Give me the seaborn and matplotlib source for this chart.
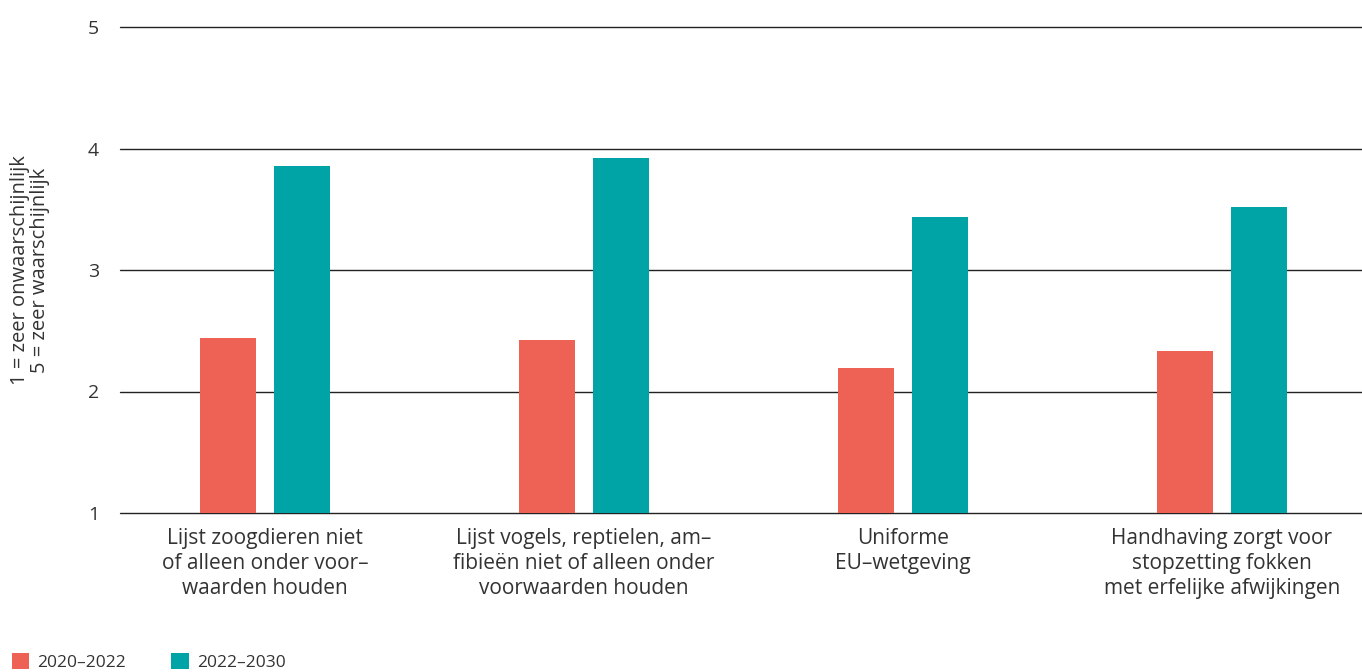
import pandas as pd
import matplotlib
matplotlib.use("Agg")
import matplotlib.pyplot as plt
import seaborn as sns

# data
categories = [
    "Lijst zoogdieren niet\nof alleen onder voor–\nwaarden houden",
    "Lijst vogels, reptielen, am–\nfibieën niet of alleen onder\nvoorwaarden houden",
    "Uniforme\nEU–wetgeving",
    "Handhaving zorgt voor\nstopzetting fokken\nmet erfelijke afwijkingen",
]
periods = ["2020–2022", "2022–2030"]
values_2020_2022 = [2.44, 2.42, 2.19, 2.33]
values_2022_2030 = [3.86, 3.92, 3.44, 3.52]
palette = {"2020–2022": "#ED6254", "2022–2030": "#00A3A6"}

sns.set_theme(style="white")
plt.rcParams["font.family"] = ["Open Sans", "DejaVu Sans"]
text_color = "#333333"

df = pd.DataFrame({
    "category": categories * 2,
    "period": [periods[0]] * 4 + [periods[1]] * 4,
    "value": values_2020_2022 + values_2022_2030,
})

fig = plt.figure(figsize=(13.62, 6.72), dpi=100)
ax = fig.add_axes([120 / 1362, 1 - 513 / 672, 1 - 120 / 1362, (513 - 27) / 672])

# scale runs 1..5, bars below 1 are clipped by the axis
sns.barplot(data=df, x="category", y="value", hue="period", palette=palette,
            width=0.464, gap=0.244, saturation=1, ax=ax, linewidth=0)

ax.set_ylim(1, 5)
ax.set_xlim(-0.455, 3.44)
ax.set_yticks([1, 2, 3, 4, 5])
ax.yaxis.grid(True, color="#222222", linewidth=1)
for gl in ax.get_ygridlines():
    gl.set_clip_on(False)
ax.set_axisbelow(True)
for s in ax.spines.values():
    s.set_visible(False)
ax.tick_params(axis="y", length=0, pad=15, labelsize=14, labelcolor=text_color)
ax.tick_params(axis="x", length=0, pad=11, labelsize=15, labelcolor=text_color)
for lbl in ax.get_xticklabels():
    lbl.set_linespacing(1.25)
ax.set_xlabel("")
ax.set_ylabel("")

fig.text(30 / 1362, 1 - 270 / 672, "1 = zeer onwaarschijnlijk\n5 = zeer waarschijnlijk",
         rotation=90, ha="center", va="center", fontsize=14.5, color=text_color,
         linespacing=1.0, multialignment="center")

handles, labels = ax.get_legend_handles_labels()
ax.get_legend().remove()
fig.legend(handles, labels, loc="lower left", bbox_to_anchor=(-0.003, -0.022),
           ncol=2, frameon=False, fontsize=12.5, handlelength=1.0, handleheight=1.0,
           handletextpad=0.5, columnspacing=2.6, labelcolor=text_color)

fig.savefig("out.png", dpi=100)
